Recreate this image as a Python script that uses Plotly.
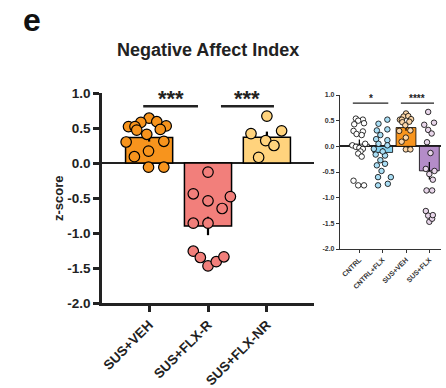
import numpy as np
import plotly.graph_objects as go

# ---------------- data ----------------
main_groups = ["SUS+VEH", "SUS+FLX-R", "SUS+FLX-NR"]
veh = [0.64, 0.58, 0.59, 0.52, 0.52, 0.53, 0.48, 0.47, 0.41, 0.30, 0.31, 0.17, 0.09, -0.06, -0.06]
veh_jit = [0.0, -0.14, 0.13, -0.35, -0.24, 0.29, 0.19, -0.21, -0.04, -0.39, 0.25, -0.01, -0.25, -0.01, 0.25]
flx_r = [-0.13, -0.44, -0.54, -0.48, -0.65, -0.86, -0.86, -1.26, -1.35, -1.47, -1.41, -1.34]
flx_r_jit = [0.0, -0.25, 0.0, 0.38, 0.24, -0.25, 0.0, -0.25, -0.13, 0.0, 0.14, 0.27]
flx_nr = [0.67, 0.42, 0.46, 0.32, 0.25, 0.08]
flx_nr_jit = [0.0, -0.27, 0.25, -0.02, 0.12, -0.14]

inset_groups = ["CNTRL", "CNTRL+FLX", "SUS+VEH", "SUS+FLX"]
cntrl = [0.54, 0.52, 0.50, 0.45, 0.43, 0.30, 0.29, 0.24, 0.22, 0.05, 0.02, -0.01, -0.03, -0.05,
         -0.10, -0.14, -0.20, -0.67, -0.76, -0.76]
cntrl_jit = [-0.15, 0.15, -0.05, 0.2, -0.22, -0.25, 0.15, -0.12, 0.1, 0.25, -0.3, -0.15, 0.0,
             0.15, 0.05, -0.05, 0.1, -0.25, -0.05, 0.2]
cntrl_flx = [0.52, 0.44, 0.33, 0.31, 0.22, 0.14, 0.12, 0.05, 0.02, -0.05, -0.16, -0.18, -0.27,
             -0.34, -0.37, -0.48, -0.60, -0.60, -0.76, -0.73, -0.10]
cntrl_flx_jit = [0.2, -0.18, 0.2, -0.25, -0.1, -0.28, 0.2, -0.18, 0.2, -0.38, -0.3, 0.1, -0.1,
                 0.1, -0.25, -0.05, 0.35, -0.2, -0.2, 0.22, 0.0]
sus_flx = flx_r + flx_nr
sus_flx_jit = [0.05, -0.15, 0.0, 0.22, 0.15, -0.12, 0.12, -0.15, -0.05, 0.0, 0.12, 0.15,
               -0.05, -0.22, 0.2, -0.05, 0.1, -0.1]

# ---------------- styling ----------------
C_VEH = "#F7941D"
C_FR = "#F27F7B"
C_FNR = "#FFD37D"
C_CF_BAR = "#86D2F0"
C_CF_PT = "#A9DEF5"
C_SV_PT = "#FCD6A8"
C_SF_BAR = "#B48CC8"
C_SF_PT = "#E8D6EA"
FONT = "Liberation Sans"


def mean_sem(v):
    a = np.asarray(v, dtype=float)
    return a.mean(), a.std(ddof=1) / np.sqrt(len(a))


fig = go.Figure()

# ---------------- main panel ----------------
main_vals = [veh, flx_r, flx_nr]
main_jits = [veh_jit, flx_r_jit, flx_nr_jit]
main_cols = [C_VEH, C_FR, C_FNR]
ms = [mean_sem(v) for v in main_vals]
fig.add_trace(go.Bar(
    x=list(range(len(main_groups))), y=[m for m, s in ms], width=0.8,
    marker=dict(color=main_cols, line=dict(color="black", width=1.5)),
    error_y=dict(type="data", array=[s for m, s in ms], color="black", thickness=2.2, width=0),
    xaxis="x", yaxis="y", showlegend=False, hoverinfo="skip"))
for i, (vals, jit, col) in enumerate(zip(main_vals, main_jits, main_cols)):
    fig.add_trace(go.Scatter(
        x=[i + j for j in jit], y=vals, mode="markers",
        marker=dict(size=10.5, color=col, line=dict(color="black", width=1.2)),
        xaxis="x", yaxis="y", showlegend=False, cliponaxis=False, hoverinfo="skip"))

# ---------------- inset panel ----------------
in_vals = [cntrl, cntrl_flx, veh, sus_flx]
in_jits = [cntrl_jit, cntrl_flx_jit, [0.75 * j for j in veh_jit], sus_flx_jit]
in_bar_cols = ["white", C_CF_BAR, C_VEH, C_SF_BAR]
in_pt_cols = ["white", C_CF_PT, C_SV_PT, C_SF_PT]
ims = [mean_sem(v) for v in in_vals]
fig.add_trace(go.Bar(
    x=list(range(len(inset_groups))), y=[m for m, s in ims], width=0.85,
    marker=dict(color=in_bar_cols, line=dict(color="black", width=0.8)),
    error_y=dict(type="data", array=[s for m, s in ims], color="black", thickness=1.2, width=0),
    xaxis="x2", yaxis="y2", showlegend=False, hoverinfo="skip"))
for i, (vals, jit, col) in enumerate(zip(in_vals, in_jits, in_pt_cols)):
    fig.add_trace(go.Scatter(
        x=[i + j for j in jit], y=vals, mode="markers",
        marker=dict(size=5.5, color=col, line=dict(color="black", width=0.8)),
        xaxis="x2", yaxis="y2", showlegend=False, cliponaxis=False, hoverinfo="skip"))

W, H = 446, 388
yt = [1.0, 0.5, 0.0, -0.5, -1.0, -1.5, -2.0]
ytxt = ["%.1f" % v for v in yt]

fig.update_layout(
    width=W, height=H, margin=dict(l=0, r=0, t=0, b=0, autoexpand=False),
    paper_bgcolor="white", plot_bgcolor="white",
    font=dict(family=FONT, color="#222222"),
    xaxis=dict(domain=[102 / W, 314 / W], range=[-0.8, 2.8], tickvals=[0, 1, 2],
               ticktext=main_groups, tickangle=-45, showline=True, linecolor="#222222",
               linewidth=2.5, ticks="outside", ticklen=6, tickwidth=2.5, tickcolor="#222222",
               showgrid=False, zeroline=False,
               tickfont=dict(size=13.5, weight="bold", family=FONT, color="#222222")),
    yaxis=dict(domain=[1 - 303 / H, 1 - 93 / H], range=[-2, 1], tickvals=yt, ticktext=ytxt,
               showline=True, linecolor="#222222", linewidth=2.5, ticks="outside", ticklen=6,
               tickwidth=2.5, tickcolor="#222222", showgrid=False,
               zeroline=True, zerolinecolor="#222222", zerolinewidth=2.2,
               tickfont=dict(size=13.5, weight="bold", family=FONT, color="#222222")),
    xaxis2=dict(domain=[340 / W, 441 / W], range=[-0.83, 3.5], tickvals=[0, 1, 2, 3],
                ticktext=inset_groups, tickangle=-45, showline=True, linecolor="#333333",
                linewidth=1.2, ticks="outside", ticklen=3, tickwidth=1.2, tickcolor="#333333",
                showgrid=False, zeroline=False, anchor="y2",
                tickfont=dict(size=7, weight="bold", family=FONT, color="#333333")),
    yaxis2=dict(domain=[1 - 249 / H, 1 - 95 / H], range=[-2, 1], tickvals=yt, ticktext=ytxt,
                showline=True, linecolor="#333333", linewidth=1.2, ticks="outside", ticklen=3,
                tickwidth=1.2, tickcolor="#333333", showgrid=False, anchor="x2",
                zeroline=True, zerolinecolor="#222222", zerolinewidth=1.5,
                tickfont=dict(size=7, weight="bold", family=FONT, color="#333333")),
)

# significance bars
sig = [("x", "y", -0.1, 0.83, 0.81, "***", 22, 2.5),
       ("x", "y", 1.22, 2.12, 0.81, "***", 22, 2.5),
       ("x2", "y2", -0.28, 1.24, 0.84, "*", 10, 1.2),
       ("x2", "y2", 1.78, 3.2, 0.84, "****", 10, 1.2)]
for xr, yr, x0, x1, yv, txt, fs, lw in sig:
    fig.add_shape(type="line", xref=xr, yref=yr, x0=x0, x1=x1, y0=yv, y1=yv,
                  line=dict(color="#222222", width=lw))
    fig.add_annotation(xref=xr, yref=yr, x=(x0 + x1) / 2, y=yv, text=txt, showarrow=False,
                       xanchor="center", yanchor="bottom", yshift=-0.32 * fs,
                       font=dict(size=fs, weight="bold", family=FONT, color="#222222"))

fig.add_annotation(xref="paper", yref="paper", x=208 / W, y=1 - 50 / H, text="Negative Affect Index",
                   showarrow=False, xanchor="center", yanchor="middle",
                   font=dict(size=18, weight="bold", family=FONT, color="#222222"))
fig.add_annotation(xref="paper", yref="paper", x=32 / W, y=1 - 20 / H, text="e",
                   showarrow=False, xanchor="center", yanchor="middle",
                   font=dict(size=32, weight="bold", family=FONT, color="#111111"))
fig.add_annotation(xref="paper", yref="paper", x=58 / W, y=1 - 198 / H, text="z-score",
                   textangle=-90, showarrow=False, xanchor="center", yanchor="middle",
                   font=dict(size=13, weight="bold", family=FONT, color="#222222"))

fig.write_html("out.html")
